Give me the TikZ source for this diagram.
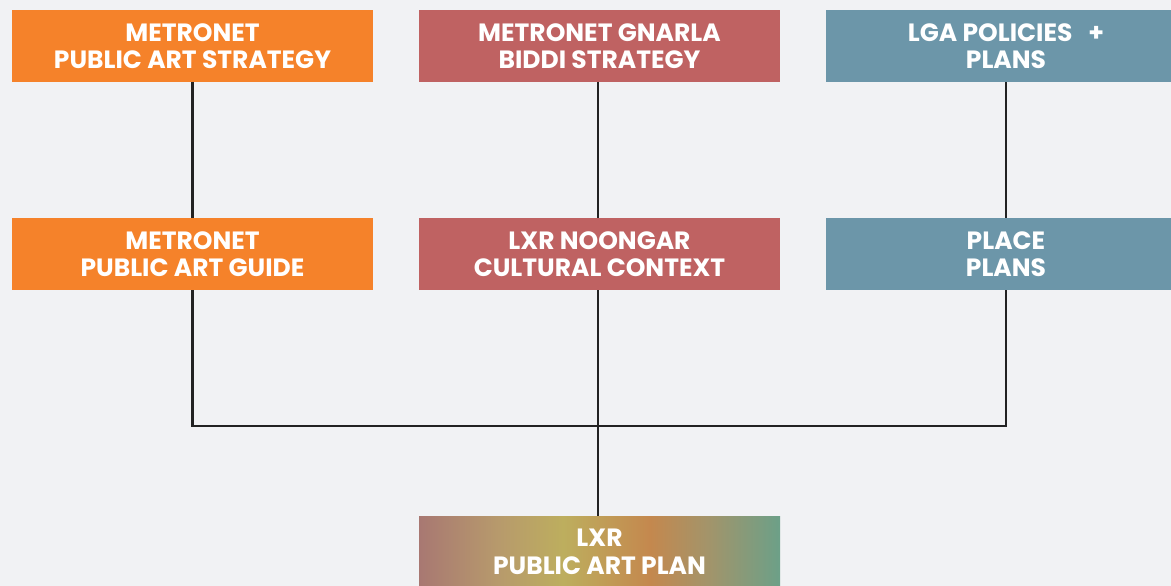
\documentclass[tikz,border=0pt]{standalone}
\usepackage{fontspec}
\setmainfont{Poppins}
\usepackage{tikz}
\usetikzlibrary{positioning}

\definecolor{bgcol}{HTML}{F1F2F4}
\definecolor{metroorange}{HTML}{F5822A}
\definecolor{gnarlared}{HTML}{BF6262}
\definecolor{lgablue}{HTML}{6C96A9}
\definecolor{linecol}{HTML}{222222}
\definecolor{gradA}{HTML}{A87872}
\definecolor{gradB}{HTML}{B79A6C}
\definecolor{gradC}{HTML}{BDAE5E}
\definecolor{gradD}{HTML}{C4884E}
\definecolor{gradE}{HTML}{A3946A}
\definecolor{gradF}{HTML}{6CA088}

\pgfdeclarehorizontalshading{lxrgrad}{100bp}{color(0bp)=(gradA); color(25bp)=(gradA); color(36bp)=(gradB); color(45bp)=(gradC); color(57bp)=(gradD); color(65bp)=(gradE); color(75bp)=(gradF); color(100bp)=(gradF)}

\tikzset{
  boxfont/.style={text=white, align=center, font=\fontsize{25}{27.5}\selectfont\bfseries},
  planbox/.style={rectangle, minimum width=361pt, minimum height=72pt, inner sep=0pt, boxfont},
  link/.style={linecol, line width=2.5pt}
}

\begin{document}
\begin{tikzpicture}[x=1pt, y=-1pt]

\fill[bgcol] (0,0) rectangle (1171,586);
\useasboundingbox (0,0) rectangle (1171,586);

%top row%
\node[planbox, fill=metroorange] (strategy) at (192.5,46) {METRONET\\PUBLIC ART STRATEGY};
\node[planbox, fill=gnarlared] (gnarla) at (599.5,46) {METRONET GNARLA\\BIDDI STRATEGY};
\node[planbox, fill=lgablue, minimum width=347pt] (lga) at (999.5,46) {};
\node[boxfont] (lgatext) at (1006,46) {LGA POLICIES\ \ \ +\\PLANS};

%second row%
\node[planbox, fill=metroorange] (guide) at (192.5,254) {METRONET\\PUBLIC ART GUIDE};
\node[planbox, fill=gnarlared] (context) at (599.5,254) {LXR NOONGAR\\CULTURAL CONTEXT};
\node[planbox, fill=lgablue, minimum width=347pt] (place) at (999.5,254) {};
\node[boxfont] (placetext) at (1006,254) {PLACE\\PLANS};

%plan%
\node[planbox, shading=lxrgrad] (lxr) at (599.5,552) {LXR\\PUBLIC ART PLAN};

\coordinate (bus) at (598,426);

%connectors%
\draw[link] (strategy.south -| guide.north) -- (guide.north);
\draw[link] ([xshift=-1.5pt]gnarla.south) -- ([xshift=-1.5pt]context.north);
\draw[link] (lgatext |- lga.south) -- (lgatext |- place.north);

\draw[link] (guide.south) |- (bus);
\draw[link] (lgatext |- place.south) |- (bus);
\draw[link] ([xshift=-1.5pt]context.south) -- (bus) -- (bus |- lxr.north);

\end{tikzpicture}
\end{document}
